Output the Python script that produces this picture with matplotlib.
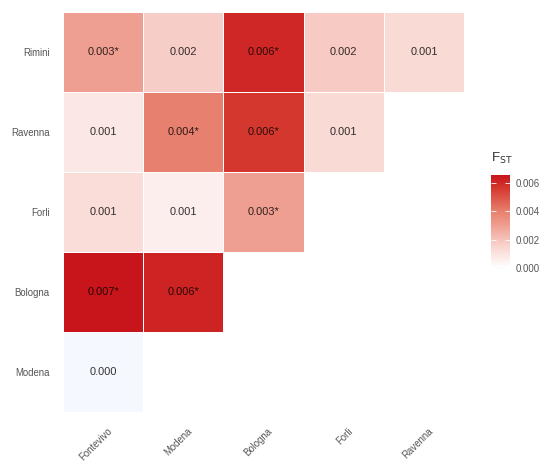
import numpy as np
import matplotlib
matplotlib.use('Agg')
from matplotlib import pyplot as plt
from matplotlib import rc
from matplotlib.colors import LinearSegmentedColormap, Normalize
from matplotlib.cm import ScalarMappable
from matplotlib.transforms import ScaledTranslation

rows = ['Rimini', 'Ravenna', 'Forli', 'Bologna', 'Modena']
cols = ['Fontevivo', 'Modena', 'Bologna', 'Forli', 'Ravenna']

# pairwise FST (rows top -> bottom), nan = not shown
fst = np.array([
    [0.0030, 0.0017, 0.0061, 0.0018, 0.0013],
    [0.0008, 0.0040, 0.0057, 0.0013, np.nan],
    [0.0012, 0.0006, 0.0030, np.nan, np.nan],
    [0.0066, 0.0062, np.nan, np.nan, np.nan],
    [-0.0001, np.nan, np.nan, np.nan, np.nan],
])
signif = np.array([
    [1, 0, 1, 0, 0],
    [0, 1, 1, 0, 0],
    [0, 0, 1, 0, 0],
    [1, 1, 0, 0, 0],
    [0, 0, 0, 0, 0],
], dtype=bool)

cb_ticks = [0.000, 0.002, 0.004, 0.006]
vmin, vmax = -0.0001, 0.0066

rc('font', family=['Liberation Sans', 'DejaVu Sans'])

z0 = (0 - vmin) / (vmax - vmin)
cmap = LinearSegmentedColormap.from_list('fst', [
    (0.0, '#f5f9ff'),
    (z0, '#ffffff'),
    (0.25, '#f8d2cc'),
    (0.47, '#ef9d8f'),
    (0.62, '#e77e6c'),
    (0.85, '#d63b30'),
    (1.0, '#c8141b'),
])
norm = Normalize(vmin=vmin, vmax=vmax)

fig = plt.figure(figsize=(5.5, 4.68), dpi=100)
ax = fig.add_axes([63 / 550, 1 - 412 / 468, 401 / 550, 400 / 468])

ax.pcolormesh(np.ma.masked_invalid(fst), cmap=cmap, norm=norm,
              edgecolor='white', linewidth=0.6)
ax.set_xlim(0, 5)
ax.set_ylim(5, 0)

for i in range(len(rows)):
    for j in range(len(cols)):
        v = fst[i, j]
        if np.isnan(v):
            continue
        s = '%.3f' % abs(v) if abs(v) < 0.0005 else '%.3f' % v
        if signif[i, j]:
            s += '*'
        ax.text(j + 0.5, i + 0.5, s, ha='center', va='center',
                fontsize=7.9, color='black', alpha=0.8)

ax.set_xticks(np.arange(5) + 0.5)
ax.set_xticklabels(cols, rotation=45, ha='right', va='top',
                   rotation_mode='anchor', fontsize=6.9, color='#555555')
ax.set_yticks(np.arange(5) + 0.5)
ax.set_yticklabels(rows, fontsize=6.9, color='#555555')
ax.tick_params(axis='y', length=0, pad=9.5)
ax.tick_params(axis='x', length=0, pad=10)
for lab in ax.get_xticklabels():
    lab.set_transform(lab.get_transform() +
                      ScaledTranslation(4 / 100, 0, fig.dpi_scale_trans))
for sp in ax.spines.values():
    sp.set_visible(False)

# colour bar
cax = fig.add_axes([491 / 550, 1 - 269 / 468, 19 / 550, 94 / 468])
sm = ScalarMappable(norm=norm, cmap=cmap)
cb = fig.colorbar(sm, cax=cax, ticks=cb_ticks)
cb.outline.set_visible(False)
cb.set_ticklabels(['%.3f' % t for t in cb_ticks])
cax.tick_params(axis='y', direction='in', length=3.5, width=0.6,
                color='white', labelsize=6.9, labelcolor='#555555', pad=4,
                left=True, right=True)
cax.text(0.0, 1.1, r'F$_{\mathrm{ST}}$', transform=cax.transAxes,
         ha='left', va='bottom', fontsize=9.5, color='#333333')

fig.savefig('out.png', dpi=100)
